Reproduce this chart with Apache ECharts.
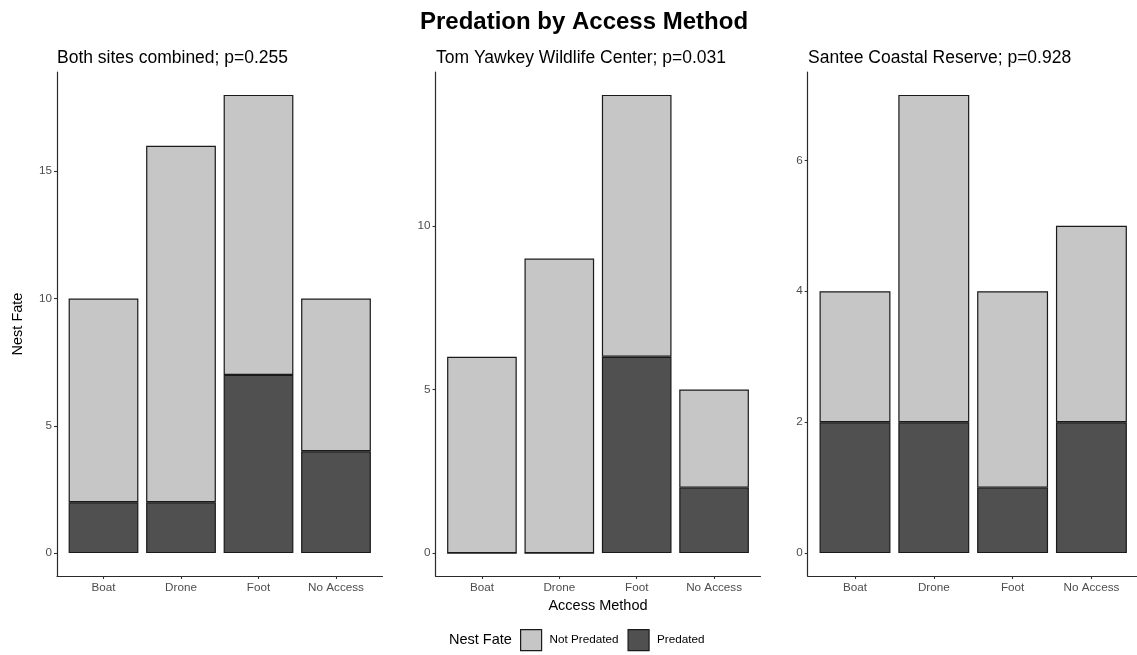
<!DOCTYPE html>
<html>
<head>
<meta charset="utf-8">
<script src="https://cdn.jsdelivr.net/npm/echarts@6/dist/echarts.min.js"></script>
<style>html,body{margin:0;padding:0;background:#fff;}#c{width:1137px;height:655px;}</style>
</head>
<body>
<div id="c"></div>
<script>
// ---- data ----
const categories = ['Boat', 'Drone', 'Foot', 'No Access'];
const panelTitles = ['Both sites combined; p=0.255', 'Tom Yawkey Wildlife Center; p=0.031', 'Santee Coastal Reserve; p=0.928'];
const bothPredated = [2, 2, 7, 4];
const bothNotPredated = [8, 14, 11, 6];
const tomPredated = [0, 0, 6, 2];
const tomNotPredated = [6, 9, 8, 3];
const santeePredated = [2, 2, 1, 2];
const santeeNotPredated = [2, 5, 3, 3];
const yTicks1 = [0, 5, 10, 15];
const yTicks2 = [0, 5, 10];
const yTicks3 = [0, 2, 4, 6];
const yMax1 = 18, yMax2 = 14, yMax3 = 7;

// ---- layout ----
const chart = echarts.init(document.getElementById('c'), null, {renderer: 'canvas'});
const FONT = '"Liberation Sans", Arial, sans-serif';
const LIGHT = '#c6c6c6', DARK = '#505050', EDGE = '#1a1a1a';
const TOP = 72, BOTTOM = 79;
const panels = [
  {left: 57, width: 325.5, pred: bothPredated, notp: bothNotPredated, ticks: yTicks1, ymax: yMax1},
  {left: 435.5, width: 325, pred: tomPredated, notp: tomNotPredated, ticks: yTicks2, ymax: yMax2},
  {left: 807.7, width: 331, pred: santeePredated, notp: santeeNotPredated, ticks: yTicks3, ymax: yMax3}
];
const grids = [], xAxes = [], yAxes = [], series = [];
const tickLabel = {color: '#4d4d4d', fontSize: 11.7, fontFamily: FONT};
const axisLineStyle = {show: true, onZero: false, lineStyle: {color: '#2a2a2a', width: 1.2}};
panels.forEach((p, k) => {
  const band = p.width / 4.2;           // ggplot discrete expansion of 0.6 per side
  const pad = p.ymax * 0.05;
  // frame grid (index 2k): axis lines, y ticks, y labels
  grids.push({left: p.left, width: p.width, top: TOP, bottom: BOTTOM});
  // bar grid (index 2k+1): category bands
  grids.push({left: p.left + 0.1 * band, width: 4 * band, top: TOP, bottom: BOTTOM});

  xAxes.push({
    type: 'value', gridIndex: 2 * k, min: 0, max: 1,
    splitLine: {show: false}, axisLine: axisLineStyle,
    axisTick: {show: false}, axisLabel: {show: false},
    name: k === 1 ? 'Access Method' : '', nameLocation: 'middle', nameGap: 22,
    nameTextStyle: {color: '#000', fontSize: 14.5, fontFamily: FONT}
  });
  xAxes.push({
    type: 'category', gridIndex: 2 * k + 1, data: categories, boundaryGap: true,
    axisLine: {show: false, onZero: false},
    axisTick: {show: true, alignWithLabel: true, length: 3, lineStyle: {color: '#333', width: 1.1}},
    axisLabel: Object.assign({margin: 6, interval: 0}, tickLabel)
  });
  yAxes.push({
    type: 'value', gridIndex: 2 * k, min: -pad, max: p.ymax + pad,
    splitLine: {show: false}, axisLine: axisLineStyle,
    axisTick: {show: true, length: 3, lineStyle: {color: '#333', width: 1.1}, customValues: p.ticks},
    axisLabel: Object.assign({margin: 5, customValues: p.ticks}, tickLabel),
    name: k === 0 ? 'Nest Fate' : '', nameLocation: 'middle', nameGap: 32,
    nameTextStyle: {color: '#000', fontSize: 14.5, fontFamily: FONT}
  });
  yAxes.push({
    type: 'value', gridIndex: 2 * k + 1, min: -pad, max: p.ymax + pad,
    show: false, splitLine: {show: false}
  });
  series.push({
    type: 'bar', name: 'Predated', xAxisIndex: 2 * k + 1, yAxisIndex: 2 * k + 1, stack: 's' + k, barWidth: '90%',
    itemStyle: {color: DARK, borderColor: EDGE, borderWidth: 1.2},
    data: p.pred
  });
  series.push({
    type: 'bar', name: 'Not Predated', xAxisIndex: 2 * k + 1, yAxisIndex: 2 * k + 1, stack: 's' + k, barWidth: '90%',
    itemStyle: {color: LIGHT, borderColor: EDGE, borderWidth: 1.2},
    data: p.notp
  });
});

chart.setOption({
  animation: false,
  backgroundColor: '#fff',
  title: [
    {text: 'Predation by Access Method', left: 579, top: 5, textAlign: 'center',
      textStyle: {fontSize: 24, fontWeight: 'bold', color: '#000', fontFamily: FONT}},
    {text: panelTitles[0], left: 52, top: 44, textStyle: {fontSize: 17.5, fontWeight: 'normal', color: '#000', fontFamily: FONT}},
    {text: panelTitles[1], left: 431, top: 44, textStyle: {fontSize: 17.5, fontWeight: 'normal', color: '#000', fontFamily: FONT}},
    {text: panelTitles[2], left: 803, top: 44, textStyle: {fontSize: 17.5, fontWeight: 'normal', color: '#000', fontFamily: FONT}},
    {text: 'Nest Fate', left: 444, top: 627, textStyle: {fontSize: 14.5, fontWeight: 'normal', color: '#000', fontFamily: FONT}}
  ],
  legend: {
    data: ['Not Predated', 'Predated'],
    left: 520, top: 629, padding: 0, itemWidth: 21, itemHeight: 21, itemGap: 9,
    icon: 'rect',
    itemStyle: {borderColor: EDGE, borderWidth: 1.2},
    textStyle: {fontSize: 11.7, color: '#000', fontFamily: FONT, padding: [0, 0, 0, 3]}
  },
  grid: grids, xAxis: xAxes, yAxis: yAxes, series: series
});
</script>
</body>
</html>
